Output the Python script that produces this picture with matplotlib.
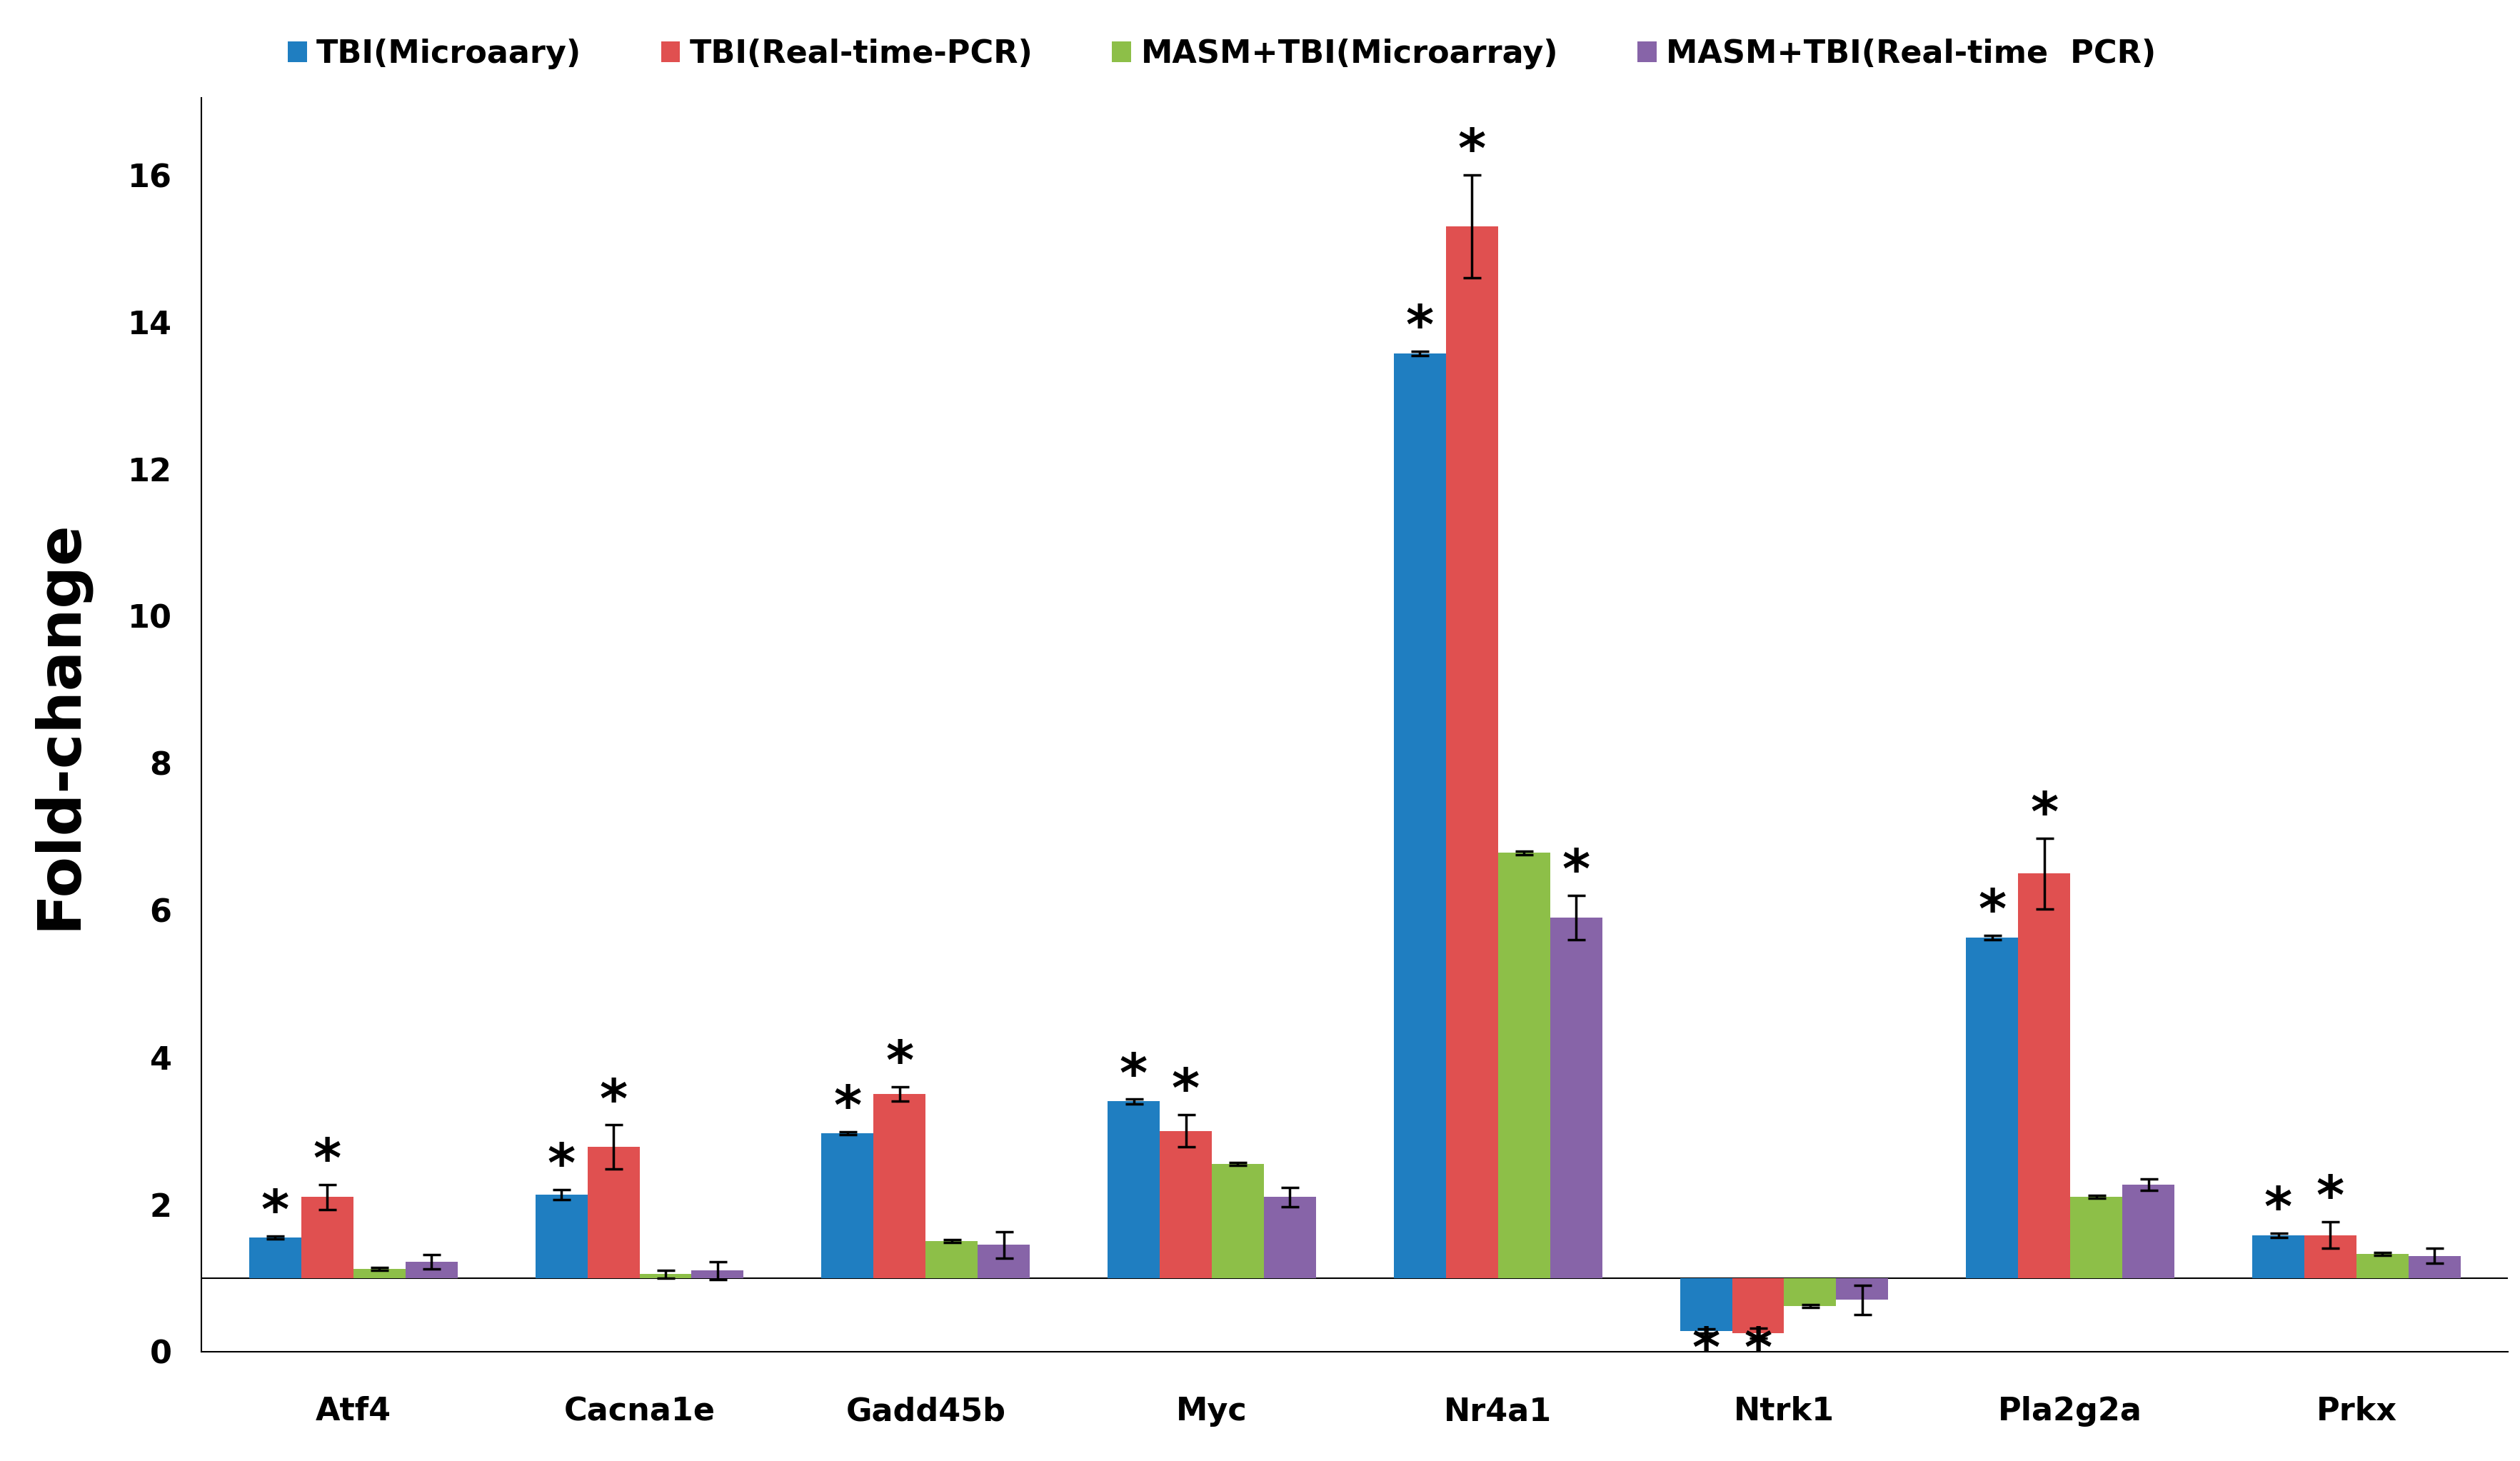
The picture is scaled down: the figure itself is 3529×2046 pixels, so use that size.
import matplotlib
matplotlib.use("Agg")
import matplotlib.pyplot as plt
import numpy as np

genes = ["Atf4", "Cacna1e", "Gadd45b", "Myc", "Nr4a1", "Ntrk1", "Pla2g2a", "Prkx"]
series = ["TBI(Microaary)", "TBI(Real-time-PCR)", "MASM+TBI(Microarray)", "MASM+TBI(Real-time  PCR)"]
tbi_micro = [1.55, 2.13, 2.97, 3.4, 13.57, 0.28, 5.63, 1.58]
tbi_micro_err = [0.02, 0.07, 0.02, 0.03, 0.03, 0.03, 0.03, 0.03]
tbi_pcr = [2.1, 2.78, 3.5, 3.0, 15.3, 0.25, 6.5, 1.58]
tbi_pcr_err = [0.17, 0.3, 0.1, 0.22, 0.7, 0.07, 0.48, 0.18]
masm_micro = [1.12, 1.05, 1.5, 2.55, 6.78, 0.62, 2.1, 1.33]
masm_micro_err = [0.02, 0.05, 0.02, 0.02, 0.02, 0.02, 0.02, 0.02]
masm_pcr = [1.22, 1.1, 1.45, 2.1, 5.9, 0.7, 2.27, 1.3]
masm_pcr_err = [0.1, 0.12, 0.18, 0.13, 0.3, 0.2, 0.08, 0.1]
stars = {0: [0, 1, 2, 3, 4, 5, 6, 7], 1: [0, 1, 2, 3, 4, 5, 6, 7], 3: [4]}

colors = ["#1F7EC1", "#E05050", "#8DBF48", "#8764A8"]
vals = [tbi_micro, tbi_pcr, masm_micro, masm_pcr]
errs = [tbi_micro_err, tbi_pcr_err, masm_micro_err, masm_pcr_err]

fig = plt.figure(figsize=(35.3, 20.46), dpi=100)
ax = fig.add_axes([0.08, 0.075, 0.915, 0.858])
x = np.arange(len(genes))
w = 0.182
base = 1.0
for i in range(4):
    pos = x + (i - 1.5) * w
    v = np.array(vals[i])
    ax.bar(pos, v - base, bottom=base, width=w, color=colors[i], label=series[i], zorder=2)
    ax.errorbar(pos, v, yerr=errs[i], fmt="none", ecolor="black", elinewidth=2.5, capsize=9, capthick=2.5, zorder=3)
for i, idxs in stars.items():
    for g in idxs:
        p = x[g] + (i - 1.5) * w
        v = vals[i][g]; e = errs[i][g]
        if v >= base:
            ax.text(p, v + e - 0.05, "*", ha="center", va="bottom", fontsize=54, fontweight="bold")
        else:
            ax.text(p, 0.0, "*", ha="center", va="center", fontsize=54, fontweight="bold")
ax.axhline(base, color="black", lw=1.5, zorder=1)
ax.set_xlim(-0.53, 7.53)
ax.set_ylim(0, 17.05)
ax.set_yticks(range(0, 17, 2))
ax.set_xticks(x)
ax.set_xticklabels(genes, fontsize=32, fontweight="bold")
ax.tick_params(axis="y", labelsize=32, length=0, pad=30)
ax.tick_params(axis="x", length=0, pad=45)
for l in ax.get_yticklabels():
    l.set_fontweight("bold")
ax.spines["top"].set_visible(False)
ax.spines["right"].set_visible(False)
ax.spines["left"].set_linewidth(1.5)
ax.spines["bottom"].set_linewidth(1.5)
ax.set_ylabel("Fold-change", fontsize=60, fontweight="bold", labelpad=40)
ax.legend(loc="lower left", bbox_to_anchor=(0.025, 1.0), ncol=4, frameon=False,
          prop={"size": 32, "weight": "bold"}, handlelength=0.6, handleheight=0.6,
          handletextpad=0.3, columnspacing=2.5)
fig.savefig("out.png", dpi=100)
